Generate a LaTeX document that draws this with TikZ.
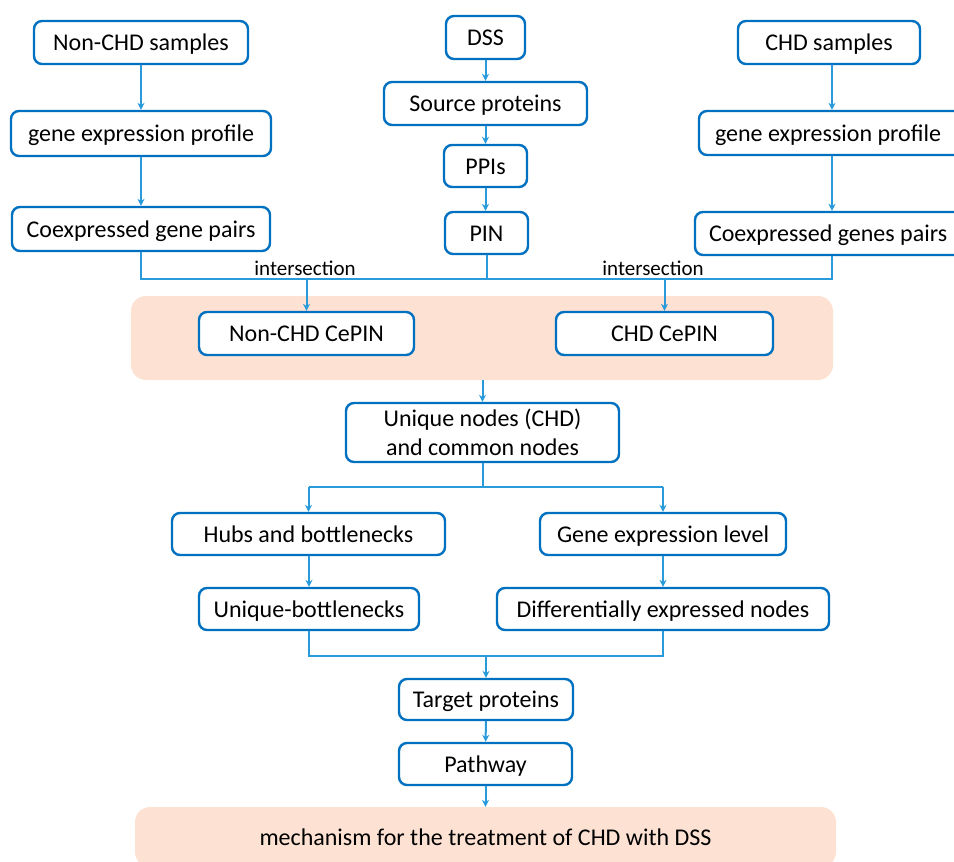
\documentclass[tikz,border=0pt]{standalone}
\usepackage{fontspec}
\setmainfont{Carlito}
\usetikzlibrary{arrows.meta}
\definecolor{boxblue}{RGB}{0,112,192}
\definecolor{lineblue}{RGB}{41,155,219}
\definecolor{peach}{RGB}{253,226,211}
\begin{document}
\begin{tikzpicture}[x=1pt,y=-1pt,
  box/.style={draw=boxblue, line width=2.4pt, rounded corners=8pt, fill=white, inner sep=0pt,
    font=\fontsize{24}{29}\selectfont, align=center},
  sbox/.style={box, text height=21pt, text depth=5pt},
  region/.style={fill=peach, rounded corners=15pt, inner sep=0pt, font=\fontsize{24}{29}\selectfont},
  conn/.style={draw=lineblue, line width=2pt},
  arr/.style={conn, -{Stealth[length=7pt,width=7pt]}},
  lbl/.style={font=\fontsize{21}{25}\selectfont, inner sep=0pt}]
\useasboundingbox (0,0) rectangle (954,862);
\clip (0,0) rectangle (954,862);

% regions
\node[region, minimum width=702pt, minimum height=84pt] (reg1) at (482,338) {};
\node[region, minimum width=701pt, minimum height=60pt, text height=21pt, text depth=5pt] (reg2) at (485.5,837) {mechanism for the treatment of CHD with DSS};

% left column
\node[sbox, minimum width=214pt, minimum height=43pt] (nonS) at (141,42.5) {Non-CHD samples};
\node[sbox, minimum width=260pt, minimum height=45pt] (geL) at (141,133.5) {gene expression profile};
\node[sbox, minimum width=258pt, minimum height=44pt] (coL) at (141,229) {Coexpressed gene pairs};

% middle column
\node[sbox, minimum width=79pt, minimum height=43pt] (dss) at (485.5,37.5) {DSS};
\node[sbox, minimum width=203pt, minimum height=43pt] (src) at (485.5,103.5) {Source proteins};
\node[sbox, minimum width=83pt, minimum height=42pt] (ppi) at (485.5,166) {PPIs};
\node[sbox, minimum width=83pt, minimum height=42pt] (pin) at (486.5,233) {PIN};

% right column
\node[sbox, minimum width=182pt, minimum height=43pt] (chdS) at (829,42.5) {CHD samples};
\node[sbox, minimum width=266pt, minimum height=44pt, text width=234pt, align=flush left] (geR) at (832,133) {gene expression profile};
\node[sbox, minimum width=274pt, minimum height=43pt, text width=246pt, align=flush left] (coR) at (832,233.5) {Coexpressed genes pairs};

% CePIN
\node[sbox, minimum width=215pt, minimum height=43pt] (ncp) at (306.5,333.5) {Non-CHD CePIN};
\node[sbox, minimum width=217pt, minimum height=43pt] (ccp) at (664.5,333.5) {CHD CePIN};

% lower part
\node[box, minimum width=273pt, minimum height=59pt] (uniq) at (482.5,432.5) {Unique nodes (CHD)\\and common nodes};
\node[sbox, minimum width=273pt, minimum height=42pt] (hubs) at (308.5,534) {Hubs and bottlenecks};
\node[sbox, minimum width=246pt, minimum height=42pt] (gel) at (663,534) {Gene expression level};
\node[sbox, minimum width=220pt, minimum height=42pt] (ub) at (309,609) {Unique-bottlenecks};
\node[sbox, minimum width=332pt, minimum height=42pt] (den) at (663,609) {Differentially expressed nodes};
\node[sbox, minimum width=174pt, minimum height=41pt] (tp) at (486,699.5) {Target proteins};
\node[sbox, minimum width=173pt, minimum height=42pt] (pw) at (485.5,764) {Pathway};

% top arrows
\draw[arr] (nonS) -- (geL);
\draw[arr] (geL) -- (coL);
\draw[arr] (dss) -- (src);
\draw[arr] (src) -- (ppi);
\draw[arr] (ppi.south) -- (ppi.south |- pin.north);
\draw[arr] (chdS.south -| geR.north) -- (geR.north);
\draw[arr] (geR) -- (coR);

% intersection bus
\coordinate (bus1) at (0,279);
\draw[conn] (coL.south) -- (coL.south |- bus1) -- (coR.south |- bus1) -- (coR.south);
\draw[conn] (pin.south) -- (pin.south |- bus1);
\draw[arr] (ncp.north |- bus1) -- (ncp.north);
\draw[arr] (ccp.north |- bus1) -- (ccp.north);
\node[lbl] (int1) at (305,268) {intersection};
\node[lbl] (int2) at (653,268) {intersection};

% region to unique
\draw[arr] (uniq.north |- reg1.south) -- (uniq.north);

% branch
\coordinate (bus2) at (0,487);
\draw[conn] (uniq.south) -- (uniq.south |- bus2);
\draw[conn] (hubs.north |- bus2) -- (gel.north |- bus2);
\draw[arr] (hubs.north |- bus2) -- (hubs.north);
\draw[arr] (gel.north |- bus2) -- (gel.north);
\draw[arr] (hubs.south -| ub.north) -- (ub.north);
\draw[arr] (gel) -- (den);

% merge
\coordinate (bus3) at (0,656);
\draw[conn] (ub.south) -- (ub.south |- bus3) -- (den.south |- bus3) -- (den.south);
\draw[arr] (tp.north |- bus3) -- (tp.north);
\draw[arr] (tp) -- (pw);
\draw[arr] (pw.south) -- (pw.south |- reg2.north);
\end{tikzpicture}
\end{document}
